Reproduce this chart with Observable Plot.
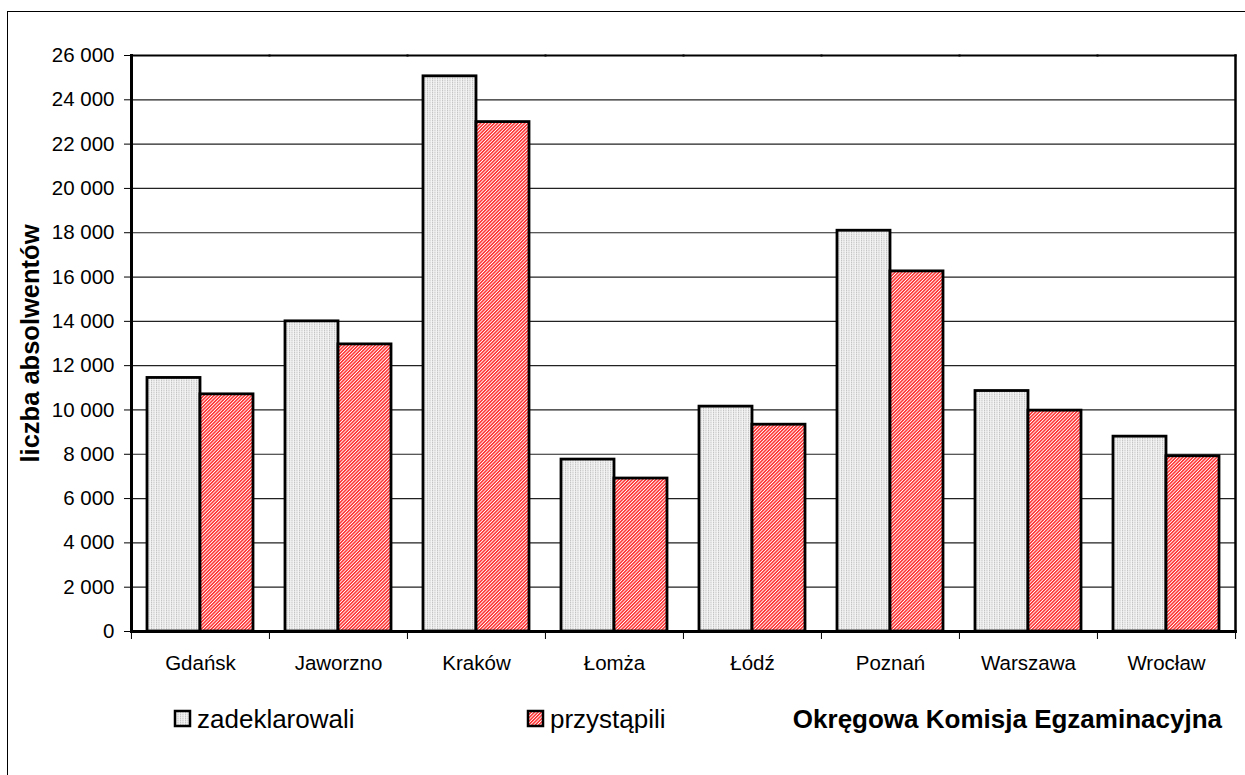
<!DOCTYPE html>
<html>
<head>
<meta charset="utf-8">
<script src="https://cdn.jsdelivr.net/npm/d3@7"></script>
<script src="https://cdn.jsdelivr.net/npm/@observablehq/plot@0.6"></script>
<style>
  html, body { margin: 0; padding: 0; background: #fff; }
  #wrap { position: relative; width: 1245px; height: 775px; overflow: hidden; font-family: "Liberation Sans", Arial, sans-serif; }
  #outer { position: absolute; left: 7px; top: 11px; width: 1400px; height: 900px; border: 1px solid #000; }
  #chart { position: absolute; left: 0; top: 0; }
  #legend { position: absolute; left: 0; top: 0; }
  g[aria-label="y-axis label"] text { font-weight: bold; font-size: 25.5px; }
</style>
</head>
<body>
<svg width="0" height="0" style="position:absolute">
  <defs>
    <pattern id="patGrey" width="2.5" height="2" patternUnits="userSpaceOnUse">
      <rect width="2.5" height="2" fill="#f4f4f4"/>
      <rect width="1" height="1.4" fill="#c0c0c0"/>
    </pattern>
    <pattern id="patRed" width="2.4" height="2.4" patternUnits="userSpaceOnUse" patternTransform="rotate(45)">
      <rect width="2.4" height="2.4" fill="#ffffff"/>
      <rect width="1.5" height="2.4" fill="#ff2e2e"/>
    </pattern>
  </defs>
</svg>
<div id="wrap">
  <div id="outer"></div>
  <div id="chart"></div>
  <svg id="legend" width="1245" height="775"></svg>
</div>
<script>
const cities = ["Gdańsk", "Jaworzno", "Kraków", "Łomża", "Łódź", "Poznań", "Warszawa", "Wrocław"];
const zadeklarowali = [11445, 14000, 25060, 7760, 10150, 18090, 10855, 8795];
const przystapili = [10705, 12960, 22995, 6905, 9335, 16255, 9970, 7910];
const seriesNames = ["zadeklarowali", "przystąpili"];
const yTicks = [0, 2000, 4000, 6000, 8000, 10000, 12000, 14000, 16000, 18000, 20000, 22000, 24000, 26000];
const yLabel = "liczba absolwentów";
const xTitle = "Okręgowa Komisja Egzaminacyjna";

const rows = cities.flatMap((c, i) => [
  {city: c, series: seriesNames[0], value: zadeklarowali[i]},
  {city: c, series: seriesNames[1], value: przystapili[i]}
]);

const fmt = d3.formatLocale({decimal: ",", thousands: " ", grouping: [3], currency: ["", ""]}).format(",d");

const W = 1245, ML = 130, MR = 10;
const step = (W - ML - MR) / cities.length;

const chart = Plot.plot({
  width: W,
  height: 680,
  marginLeft: ML,
  marginRight: MR,
  marginTop: 55,
  marginBottom: 49,
  style: {fontFamily: "'Liberation Sans', Arial, sans-serif", fontSize: "20.5px", color: "#000", background: "transparent", overflow: "visible"},
  fx: {domain: cities, padding: 0, label: null},
  x: {domain: seriesNames, paddingInner: 0, paddingOuter: 0.3, axis: null},
  y: {domain: [0, 26000], axis: null},
  marks: [
    Plot.gridY(yTicks, {stroke: "#222", strokeOpacity: 1, strokeWidth: 1.2}),
    Plot.barY(rows.filter(d => d.series === seriesNames[0]), {fx: "city", x: "series", y: "value", fill: "url(#patGrey)", stroke: "#000", strokeWidth: 2.8}),
    Plot.barY(rows.filter(d => d.series === seriesNames[1]), {fx: "city", x: "series", y: "value", fill: "url(#patRed)", stroke: "#000", strokeWidth: 2.8}),
    Plot.frame({anchor: "top", stroke: "#000", strokeWidth: 2}),
    Plot.frame({anchor: "bottom", stroke: "#000", strokeWidth: 3}),
    Plot.frame({anchor: "left", facetAnchor: "left", stroke: "#000", strokeWidth: 3}),
    Plot.frame({anchor: "right", facetAnchor: "right", stroke: "#000", strokeWidth: 2.5}),
    Plot.axisY({ticks: yTicks, tickSize: 7, tickPadding: 10, tickFormat: fmt, label: yLabel, labelAnchor: "center", labelOffset: 111, labelArrow: "none"}),
    Plot.axisFx({anchor: "bottom", tickSize: 0, tickPadding: 24, label: null}),
    Plot.axisFx({anchor: "bottom", tickSize: 8, tickFormat: () => "", dx: -step / 2, label: null}),
    Plot.axisFx({anchor: "bottom", ticks: [cities[cities.length - 1]], tickSize: 8, tickFormat: () => "", dx: step / 2, label: null})
  ]
});
document.getElementById("chart").appendChild(chart);

// legend and axis title below the plot
const lg = d3.select("#legend");
const items = [
  {name: seriesNames[0], fill: "url(#patGrey)", x: 174},
  {name: seriesNames[1], fill: "url(#patRed)", x: 527}
];
items.forEach(it => {
  lg.append("rect").attr("x", it.x + 1).attr("y", 711).attr("width", 15).attr("height", 15)
    .attr("fill", it.fill).attr("stroke", "#000").attr("stroke-width", 2.5);
  lg.append("text").attr("x", it.x + 23).attr("y", 727.5)
    .attr("font-family", "'Liberation Sans', Arial, sans-serif").attr("font-size", 26)
    .text(it.name);
});
lg.append("text").attr("x", 1222).attr("y", 728).attr("text-anchor", "end")
  .attr("font-family", "'Liberation Sans', Arial, sans-serif").attr("font-size", 26).attr("font-weight", "bold")
  .text(xTitle);
</script>
</body>
</html>
